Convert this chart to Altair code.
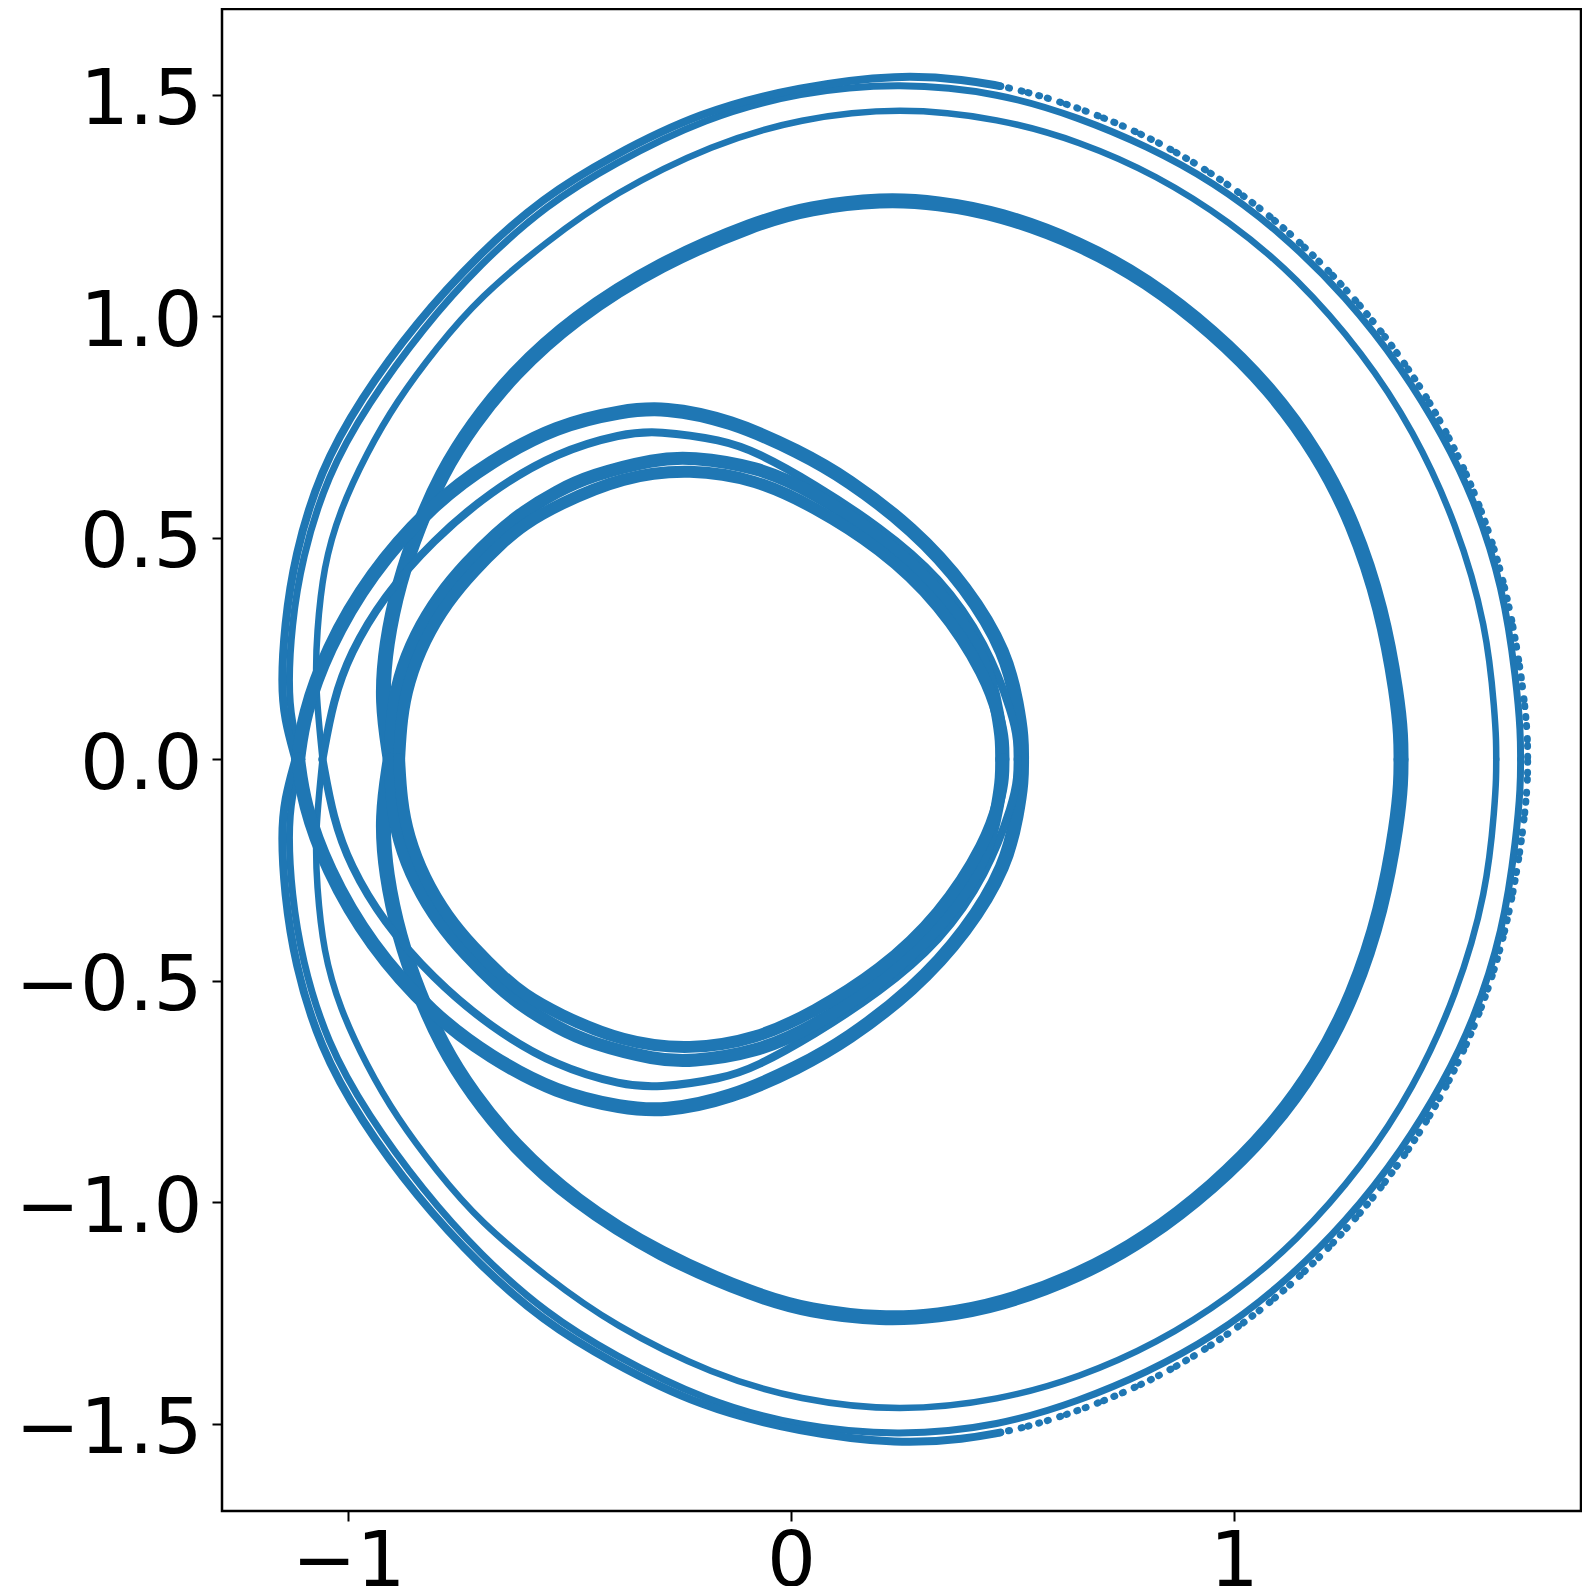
import altair as alt
import pandas as pd

# Upper-half arcs as (x, y); the figure is mirror-symmetric about y = 0,
# so the lower half uses the same readings with y negated.
outer_inner = [(-1.105,0),(-1.128,.083),(-1.135,.171),(-1.128,.3),(-1.105,.452),(-1.048,.640),(-.957,.801),(-.83,.975),
    (-.7025,1.118),(-.552,1.252),(-.401,1.345),(-.195,1.448),(.020,1.507),(.246,1.528),(.472,1.505),(.653,1.448),
    (.803,1.385),(.954,1.304),(1.105,1.191),(1.255,1.044),(1.383,.879),(1.474,.728),(1.541,.593),(1.609,.389),
    (1.639,.171),(1.648,.06),(1.648,0)]
outer_solid = [(-1.119,0),(-1.144,.09),(-1.151,.171),(-1.144,.3),(-1.121,.46),(-1.064,.65),(-.973,.813),(-.846,.987),
    (-.7025,1.143),(-.56,1.268),(-.409,1.36),(-.205,1.462),(.020,1.519),(.246,1.547),(.397,1.534),(.472,1.520)]
outer_dotted = [(.472,1.520),(.547,1.504),(.676,1.462),(.826,1.398),(.984,1.304),(1.142,1.180),(1.300,1.014),
    (1.421,.848),(1.511,.683),(1.575,.525),(1.620,.367),(1.651,.186),(1.664,.06),(1.664,0)]
second = [(-1.058,0),(-1.075,.17),(-1.071,.284),(-1.056,.435),(-1.019,.562),(-.959,.690),(-.891,.808),(-.80,.93),(-.7025,1.044),
    (-.552,1.169),(-.401,1.278),(-.175,1.39),(.020,1.447),(.246,1.473),(.472,1.447),(.653,1.395),(.826,1.319),
    (.992,1.214),(1.142,1.089),(1.293,.916),(1.406,.743),(1.504,.532),(1.572,.299),(1.59,.10),(1.593,.04),(1.593,0)]
third = [(-.905,0),(-.925,.13),(-.915,.26),(-.885,.40),(-.842,.525),(-.789,.645),(-.72,.755),(-.627,.871),(-.492,.995),
    (-.296,1.120),(-.077,1.212),(.04,1.245),(.208,1.265),(.33,1.257),(.472,1.232),(.653,1.165),(.803,1.082),(.954,.965),
    (1.082,.838),(1.19,.69),(1.27,.535),(1.335,.34),(1.37,.14),(1.378,.05),(1.378,0)]
loop_79 = [(-1.113,0),(-1.10,.10),(-1.049,.246),(-.951,.419),(-.808,.578),(-.68,.672),(-.529,.754),(-.379,.787),
    (-.288,.795),(-.138,.766),(.020,.694),(.126,.634),(.276,.521),(.397,.389),(.487,.239),(.512,.12),(.522,.05),(.522,0)]
loop_74 = [(-1.058,0),(-1.034,.133),(-.996,.239),(-.921,.367),(-.808,.495),(-.68,.604),(-.529,.694),(-.379,.736),
    (-.303,.742),(-.153,.721),(-.078,.694),(.051,.623),(.201,.525),(.337,.412),(.442,.261),(.503,.096),(.512,.04),(.512,0)]
loop_68 = [(-.905,0),(-.902,.09),(-.887,.184),(-.848,.283),(-.794,.371),(-.733,.443),(-.665,.510),(-.605,.559),(-.529,.605),(-.454,.641),
    (-.303,.679),(-.228,.683),(-.078,.662),(.051,.604),(.201,.505),(.337,.385),(.442,.230),(.47,.09),(.476,.04),(.476,0)]
loop_65 = [(-.885,0),(-.880,.09),(-.865,.172),(-.828,.269),(-.776,.355),(-.717,.425),(-.649,.492),(-.605,.529),(-.529,.574),(-.379,.639),
    (-.228,.656),(-.078,.632),(.051,.571),(.201,.478),(.337,.352),(.442,.186),(.472,.088),(.480,.04),(.480,0)]

x_ticks = [-1, 0, 1]
y_ticks = [-1.5, -1.0, -0.5, 0.0, 0.5, 1.0, 1.5]

BLUE = "#1f77b4"
x_scale = alt.Scale(domain=[-1.285, 1.7845], nice=False, zero=False)
y_scale = alt.Scale(domain=[-1.697, 1.694], nice=False, zero=False)
axis_style = dict(title=None, grid=False, domain=False, ticks=True, tickSize=10, tickWidth=2, tickColor="black",
                  labelFont="DejaVu Sans", labelFontSize=77, labelColor="black", labelOverlap=False, labelFlush=False,
                  labelLimit=0)


def arc(points, width, **mark_opts):
    rows = []
    for sign, half in ((1, "upper"), (-1, "lower")):
        for i, (px, py) in enumerate(points):
            rows.append({"x": px, "y": sign * py, "half": half, "i": i})
    return (
        alt.Chart(pd.DataFrame(rows))
        .mark_line(color=BLUE, strokeWidth=width, strokeCap="round", strokeJoin="round",
                   interpolate="basis", clip=True, **mark_opts)
        .encode(
            x=alt.X("x:Q", scale=x_scale,
                    axis=alt.Axis(values=x_ticks, format="d", labelPadding=3, **axis_style)),
            y=alt.Y("y:Q", scale=y_scale,
                    axis=alt.Axis(values=y_ticks, format=".1f", labelPadding=10, labelOffset=6, **axis_style)),
            detail="half:N",
            order="i:Q",
        )
    )


chart = (
    alt.layer(
        arc(outer_inner, 7),
        arc(outer_solid, 8),
        arc(outer_dotted, 7, strokeDash=[1, 8, 1, 12, 1, 6, 1, 10]),
        arc(second, 6.5),
        arc(third, 15),
        arc(loop_79, 14),
        arc(loop_74, 8),
        arc(loop_68, 13),
        arc(loop_65, 12),
    )
    .properties(
        width=1359,
        height=1502,
        padding={"left": 214, "top": 1, "right": 1, "bottom": 75},
        autosize=alt.AutoSizeParams(type="none"),
        background="white",
    )
    .configure_view(stroke="black", strokeWidth=2.5, fill="white")
)

chart.save("out.html", embed_options={"renderer": "svg", "actions": False})
